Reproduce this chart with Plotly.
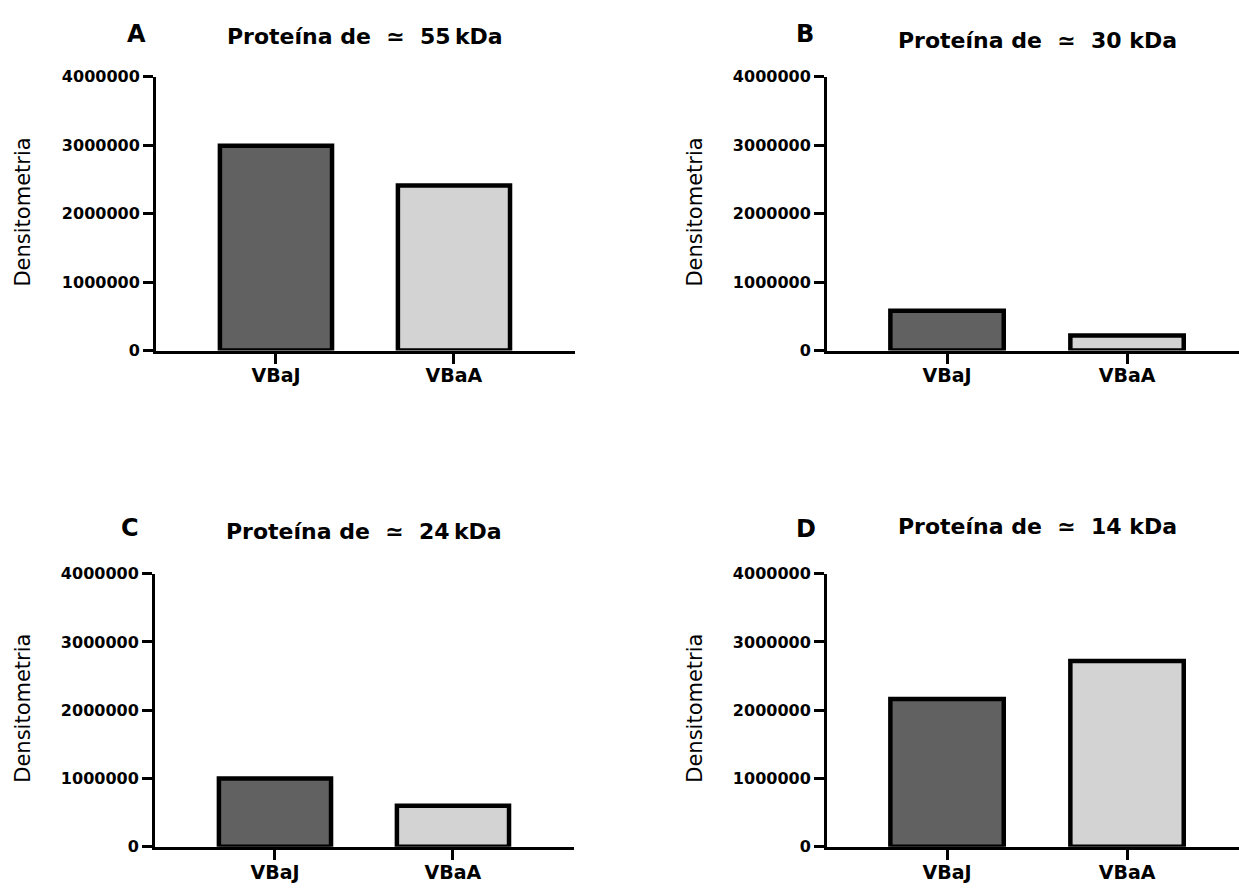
import plotly.graph_objects as go

categories = ["VBaJ", "VBaA"]
panel_letters = ["A", "B", "C", "D"]
panel_titles = [
    "Proteína de\u00a0 \u2243\u00a0 55\u2009kDa",
    "Proteína de\u00a0 \u2243\u00a0 30 kDa",
    "Proteína de\u00a0 \u2243\u00a0 24\u2009kDa",
    "Proteína de\u00a0 \u2243\u00a0 14 kDa",
]
values_A = [2990000, 2410000]
values_B = [580000, 220000]
values_C = [1000000, 600000]
values_D = [2165000, 2720000]
y_label = "Densitometria"
bar_colors = ["#616161", "#d3d3d3"]

W, H = 1239, 892

# panel geometry in pixels: (left, right, top, bottom, xrange)
panels = [
    (156, 575, 69, 349, [-0.674, 1.68]),
    (827, 1239, 69, 349, [-0.667, 1.622]),
    (155, 574, 577, 856, [-0.674, 1.68]),
    (827, 1239, 577, 856, [-0.667, 1.622]),
]
letter_pos = [(136, 26), (805, 26), (130, 530), (806, 531)]
title_pos = [(365, 28), (1037, 32), (364, 534), (1037, 529)]
ylab_pos = [(23, 208), (695, 208), (23, 715), (695, 715)]

all_values = [values_A, values_B, values_C, values_D]

fig = go.Figure()
font_family = "DejaVu Sans"

for i, vals in enumerate(all_values):
    n = "" if i == 0 else str(i + 1)
    fig.add_trace(go.Bar(
        x=categories, y=vals,
        marker=dict(color=bar_colors, line=dict(color="black", width=4.5)),
        width=0.63,
        xaxis="x" + n, yaxis="y" + n,
        showlegend=False,
    ))
    left, right, top, bottom, xr = panels[i]
    fig.layout["xaxis" + n] = dict(
        domain=[left / W, right / W],
        range=xr,
        anchor="y" + n,
        type="category",
        showline=True, linecolor="black", linewidth=3,
        ticks="outside", ticklen=10, tickwidth=3, tickcolor="black",
        showgrid=False, zeroline=False,
        tickfont=dict(family=font_family, size=19, color="black", weight="bold"),
        ticklabelstandoff=-4,
        fixedrange=True,
    )
    fig.layout["yaxis" + n] = dict(
        domain=[1 - bottom / H, 1 - top / H],
        range=[0, 4000000],
        anchor="x" + n,
        dtick=1000000, tickformat="d",
        showline=True, linecolor="black", linewidth=3,
        ticks="outside", ticklen=10, tickwidth=3, tickcolor="black",
        showgrid=False, zeroline=False,
        tickfont=dict(family=font_family, size=16, color="black", weight="bold"),
        fixedrange=True,
    )

annotations = []
for i in range(4):
    lx, ly = letter_pos[i]
    annotations.append(dict(
        text=panel_letters[i], x=lx / W, y=1 - ly / H, xref="paper", yref="paper",
        xanchor="center", yanchor="middle", showarrow=False,
        font=dict(family=font_family, size=24, color="black", weight="bold"),
    ))
    tx, ty = title_pos[i]
    annotations.append(dict(
        text=panel_titles[i], x=tx / W, y=1 - ty / H, xref="paper", yref="paper",
        xanchor="center", yanchor="middle", showarrow=False,
        font=dict(family=font_family, size=22, color="black", weight="bold"),
    ))
    yx, yy = ylab_pos[i]
    annotations.append(dict(
        text=y_label, x=yx / W, y=1 - yy / H, xref="paper", yref="paper",
        xanchor="center", yanchor="middle", showarrow=False, textangle=-90,
        font=dict(family=font_family, size=21, color="black"),
    ))

fig.update_layout(
    width=W, height=H,
    margin=dict(l=0, r=0, t=0, b=0),
    paper_bgcolor="white", plot_bgcolor="white",
    annotations=annotations,
    bargap=0.37,
)

fig.write_html("out.html", include_plotlyjs=True, config={"displayModeBar": False})
